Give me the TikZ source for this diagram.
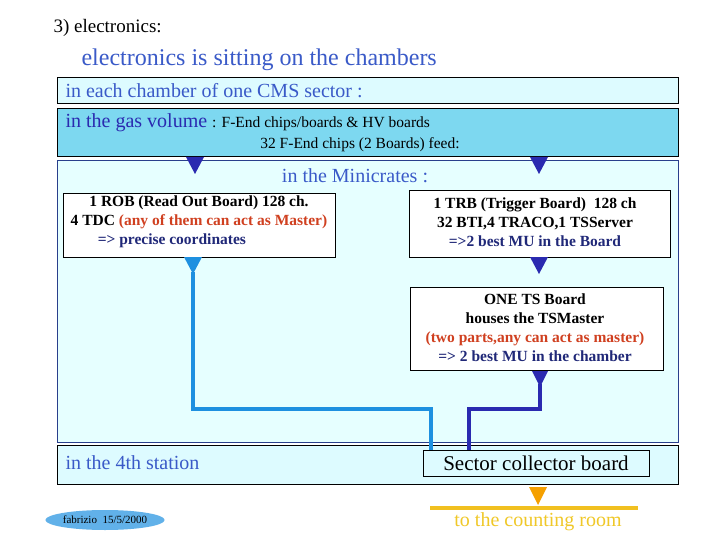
\documentclass[tikz,border=0pt]{standalone}
\usepackage{fontspec}
\setmainfont{Liberation Serif}
\usetikzlibrary{shapes.geometric}
\definecolor{lc}{HTML}{DDFBFF}
\definecolor{mc}{HTML}{7DD8F0}
\definecolor{vc}{HTML}{E6FFFF}
\definecolor{tb}{HTML}{3A5AC8}
\definecolor{db}{HTML}{2A2AB0}
\definecolor{nb}{HTML}{202878}
\definecolor{lb}{HTML}{1E90E0}
\definecolor{rd}{HTML}{D04020}
\definecolor{og}{HTML}{F5A000}
\definecolor{yl}{HTML}{F0C828}
\begin{document}
\begin{tikzpicture}[x=1pt,y=-1pt,
  panel/.style={draw=black,line width=0.8pt},
  wbox/.style={draw=black,fill=white,line width=0.6pt},
  fs/.style={font=\fontsize{#1}{#1}\selectfont},
  btxt/.style={align=center,font=\fontsize{15.5}{19}\selectfont\bfseries}]
\useasboundingbox (0,0) rectangle (720,540);
\fill[white] (0,0) rectangle (720,540);
\node[fs=19,anchor=west] (t1) at (50,28) {3) electronics:};
\node[fs=24,anchor=west,text=tb] (t2) at (78,60) {electronics is sitting on the chambers};
% panels
\draw[panel,fill=lc] (57,77) rectangle (678,103);
\node[fs=20,anchor=west,text=tb] (p1) at (62,91) {in each chamber of one CMS sector :};
\draw[panel,fill=mc] (57,108) rectangle (678,156);
\node[anchor=west] (p2) at (62,123) {\fontsize{20}{20}\selectfont\color{db}in the gas volume \fontsize{15.5}{15}\selectfont\color{black}: F-End chips/boards \& HV boards};
\node[fs=15.5] (p2b) at (360,145) {32 F-End chips (2 Boards) feed:};
\draw[draw=tb!70!black,line width=0.8pt,fill=vc] (57,160) rectangle (678,442);
\node[fs=20,text=tb] (p3) at (355,176) {in the Minicrates :};
\draw[panel,fill=lc] (57,445) rectangle (678,484);
\node[fs=20,anchor=west,text=tb] (p4) at (62,463) {in the 4th station};
% boxes
\node[wbox,minimum width=272,minimum height=64] (rob) at (199,225) {};
\node[btxt] (robt) at (199,222) {1 ROB (Read Out Board) 128 ch.\\4 TDC {\color{rd}(any of them can act as Master)}\\\hspace*{-3.5em}{\color{nb}=> precise coordinates}};
\node[wbox,minimum width=261,minimum height=67] (trb) at (539.5,223.5) {};
\node[btxt] (trbt) at (535,222) {1 TRB (Trigger Board)\ \ 128 ch\\32 BTI,4 TRACO,1 TSServer\\{\color{nb}=>2 best MU in the Board}};
\node[wbox,minimum width=253,minimum height=83] (ts) at (536.5,328.5) {};
\node[btxt] (tst) at (535,328) {ONE TS Board\\houses the TSMaster\\{\color{rd}(two parts,any can act as master)}\\{\color{nb}=> 2 best MU in the chamber}};
\node[draw=black,line width=0.6pt,fill=lc,minimum width=226,minimum height=26,fs=21] (scb) at (536,463) {Sector collector board};
% arrows
\fill[db] (186,157) -- (204,157) -- (195,174) -- cycle;
\fill[db] (530,157) -- (548,157) -- (539,174) -- cycle;
\fill[lb] (184,257) -- (202,257) -- (193,274) -- cycle;
\fill[db] (530,257) -- (548,257) -- (539,274) -- cycle;
\fill[db] (532,371) -- (548,371) -- (540,387) -- cycle;
\coordinate (a1) at (193,272);
\coordinate (a2) at (193,409);
\coordinate (a3) at (431,409);
\draw[lb,line width=3.3pt] (a1) -- (a2) -- (a3) -- (a3 |- scb.north);
\coordinate (b1) at (540,384);
\coordinate (b2) at (540,409);
\coordinate (b3) at (469,409);
\draw[db,line width=3.3pt] (b1) -- (b2) -- (b3) -- (b3 |- scb.north);
\fill[og] (529,487) -- (547,487) -- (538,505) -- cycle;
\coordinate (c1) at (430,508);
\coordinate (c2) at (638,508);
\draw[yl!80!og,line width=4pt] (c1) -- (c2);
\node[fs=20,text=yl] (cr) at (538,522) {to the counting room};
\node[ellipse,fill=lb!70!white,minimum width=104,minimum height=20,inner sep=0,fs=11] (fab) at (105,520) {fabrizio\ \ 15/5/2000};
\end{tikzpicture}
\end{document}
